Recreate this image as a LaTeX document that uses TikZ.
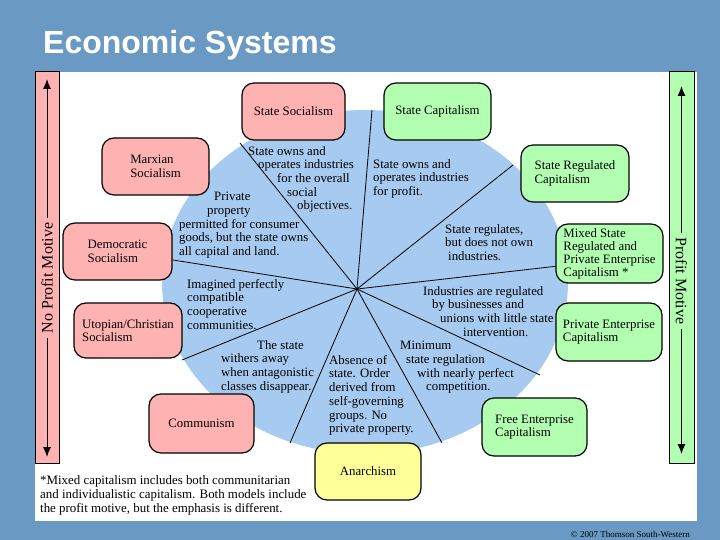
\documentclass[tikz,border=0pt]{standalone}
\usepackage{fontspec}
\setmainfont{Liberation Serif}
\newfontfamily\titlefont{Liberation Sans}
\usetikzlibrary{arrows.meta}

\definecolor{bgblue}{RGB}{106,154,196}
\definecolor{pieblue}{RGB}{166,202,240}
\definecolor{boxpink}{RGB}{255,178,178}
\definecolor{boxgreen}{RGB}{178,255,178}
\definecolor{boxyellow}{RGB}{255,255,153}

\begin{document}
\begin{tikzpicture}[x=1pt, y=-1pt,
  sysbox/.style={draw=black, line width=1.2pt, rounded corners=12pt, align=left,
    inner sep=0pt, font=\fontsize{12.8}{13.7}\selectfont},
  pinkbox/.style={sysbox, fill=boxpink},
  greenbox/.style={sysbox, fill=boxgreen},
  yellowbox/.style={sysbox, fill=boxyellow},
  sector/.style={anchor=north west, align=left, inner sep=0pt,
    font=\fontsize{12.8}{13.7}\selectfont},
  barlabel/.style={inner xsep=5pt, inner ysep=0pt, font=\fontsize{16}{18}\selectfont},
  motive/.style={line width=1pt, {Latex[length=10pt,width=8pt]}-{Latex[length=10pt,width=8pt]}}]
\useasboundingbox (0,0) rectangle (720,540);

% Background and panel
\fill[bgblue] (0,0) rectangle (720,540);
\fill[white] (35,72) rectangle (697,521);

% Title
\node[anchor=base west, inner sep=0pt, text=white,
  font={\titlefont\bfseries\fontsize{32}{38}\selectfont}] (title) at (43,54) {Economic Systems};

% Left bar: no profit motive
\draw[fill=boxpink, line width=1pt] (35,72) rectangle (59,463);
\coordinate (ltop) at (47,79);
\coordinate (lbot) at (47,457);
\draw[motive] (lbot) -- (ltop);
\node[barlabel, rotate=90, fill=boxpink] (noprofit) at (47,278) {No Profit Motive};

% Right bar: profit motive
\draw[fill=boxgreen, line width=1pt] (669,72) rectangle (694,463);
\coordinate (rtop) at (681.5,86);
\coordinate (rbot) at (681.5,454);
\draw[motive] (rbot) -- (rtop);
\node[barlabel, rotate=-90, fill=boxgreen] (profit) at (681.5,281) {Profit Motive};

% The pie
\fill[pieblue] (365,282) ellipse [x radius=203pt, y radius=172pt];

% Spokes
\coordinate (hub) at (357,289);
\coordinate (s1) at (240,143);
\coordinate (s2) at (372,110);
\coordinate (s3) at (513,165);
\coordinate (s4) at (567,265);
\coordinate (s5) at (540,375);
\coordinate (s6) at (442,443);
\coordinate (s7) at (290,443);
\coordinate (s8) at (182,360);
\coordinate (s9) at (173,260);
\foreach \i in {1,...,9}
  \draw[line width=0.8pt] (hub) -- (s\i);

% Sector texts
\node[sector] (txstatesoc) at (248,146) {State owns and\\
  \hspace*{10pt}operates industries\\
  \hspace*{29pt}for the overall\\
  \hspace*{39pt}social\\
  \hspace*{49pt}objectives.};
\node[sector] (txstatecap) at (373,159) {State owns and\\operates industries\\for profit.};
\node[sector] (txstatereg) at (445,224) {State regulates,\\but does not own\\\hspace*{3pt}industries.};
\node[sector] (txmixed) at (423,286) {Industries are regulated\\
  \hspace*{9pt}by businesses and\\
  \hspace*{17pt}unions with little state\\
  \hspace*{40pt}intervention.};
\node[sector] (txminimum) at (400,341) {Minimum\\
  \hspace*{6pt}state regulation\\
  \hspace*{17pt}with nearly perfect\\
  \hspace*{26pt}competition.};
\node[sector] (txanarch) at (329,355) {Absence of\\state. Order\\derived from\\self-governing\\groups. No\\private property.};
\node[sector] (txcommun) at (221,340) {\hspace*{36pt}The state\\withers away\\when antagonistic\\classes disappear.};
\node[sector] (txutopia) at (187,279) {Imagined perfectly\\compatible\\cooperative\\communities.};
\node[sector] (txmarx) at (179,192) {\hspace*{35pt}Private\\
  \hspace*{28pt}property\\
  permitted for consumer\\
  goods, but the state owns\\
  all capital and land.};

% Socialist systems
\node[pinkbox, minimum width=103pt, minimum height=57pt] (statesoc) at (293.5,111.5) {State Socialism};
\node[pinkbox, minimum width=107pt, minimum height=57pt] (marx) at (155.5,166.5) {Marxian\\Socialism};
\node[pinkbox, minimum width=109pt, minimum height=57pt] (demo) at (117.5,251.5) {Democratic\\Socialism};
\node[pinkbox, minimum width=108pt, minimum height=55pt] (utopia) at (128,330.5) {Utopian/Christian\\Socialism};
\node[pinkbox, minimum width=105pt, minimum height=59pt] (commun) at (201.5,423.5) {Communism};

% Anarchism
\node[yellowbox, minimum width=106pt, minimum height=57pt] (anarch) at (368,471.5) {Anarchism};

% Capitalist systems
\node[greenbox, minimum width=107pt, minimum height=57pt] (statecap) at (437.5,111.5) {State Capitalism};
\node[greenbox, minimum width=108pt, minimum height=57pt] (statereg) at (575,173.5) {State Regulated\\Capitalism};
\node[greenbox, minimum width=107pt, minimum height=59pt,
  font=\fontsize{12.8}{13}\selectfont] (mixed) at (609.5,253.5) {Mixed State\\Regulated and\\Private Enterprise\\Capitalism *};
\node[greenbox, minimum width=106pt, minimum height=58pt] (privent) at (609,332) {Private Enterprise\\Capitalism};
\node[greenbox, minimum width=105pt, minimum height=58pt] (freeent) at (534.5,427) {Free Enterprise\\Capitalism};

% Footnote
\node[sector, font=\fontsize{12.9}{14}\selectfont] (note) at (40,475) {*Mixed capitalism includes both communitarian\\
  and individualistic capitalism. Both models include\\
  the profit motive, but the emphasis is different.};

% Copyright
\node[anchor=base east, inner sep=0pt, font=\fontsize{9}{10}\selectfont] (copy) at (690,537) {© 2007 Thomson South-Western};

\end{tikzpicture}
\end{document}
